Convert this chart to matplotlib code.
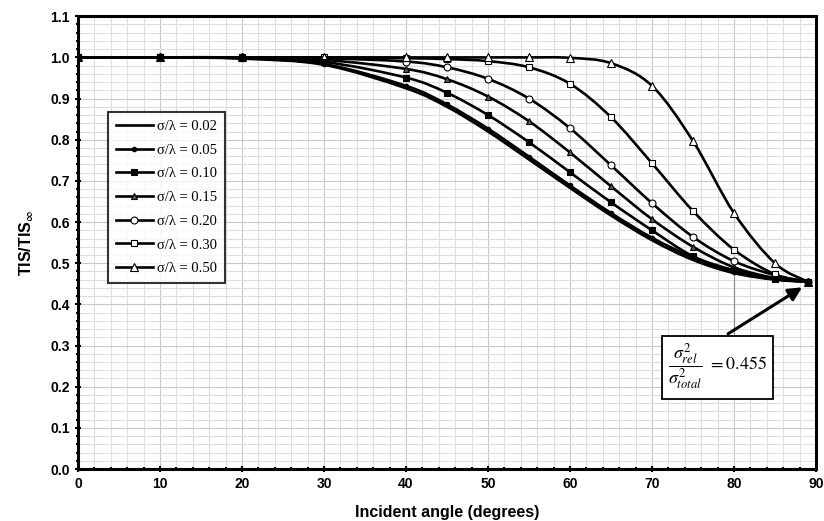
import numpy as np
import matplotlib
matplotlib.use("Agg")
import matplotlib.pyplot as plt
from matplotlib.ticker import MultipleLocator
from matplotlib.path import Path
from matplotlib.patches import PathPatch
from matplotlib.lines import Line2D

plt.rcParams.update({"font.family": "Liberation Sans", "mathtext.fontset": "stix"})

# incident angle (deg) and TIS/TIS_inf per sigma/lambda
angle = [0, 10, 20, 30, 40, 45, 50, 55, 60, 65, 70, 75, 80, 85, 89]
s002 = [1.0, 1.0, 0.997, 0.982, 0.925, 0.880, 0.820, 0.752, 0.683, 0.616, 0.556, 0.508, 0.476, 0.460, 0.455]
s005 = [1.0, 1.0, 0.998, 0.984, 0.931, 0.886, 0.827, 0.759, 0.689, 0.622, 0.562, 0.514, 0.479, 0.461, 0.455]
s010 = [1.0, 1.0, 0.999, 0.989, 0.951, 0.914, 0.860, 0.794, 0.721, 0.648, 0.580, 0.517, 0.483, 0.462, 0.455]
s015 = [1.0, 1.0, 1.0, 0.994, 0.972, 0.947, 0.905, 0.845, 0.769, 0.687, 0.607, 0.540, 0.490, 0.464, 0.455]
s020 = [1.0, 1.0, 1.0, 0.998, 0.990, 0.976, 0.948, 0.900, 0.828, 0.738, 0.646, 0.564, 0.505, 0.471, 0.455]
s030 = [1.0, 1.0, 1.0, 1.0, 0.998, 0.996, 0.991, 0.976, 0.936, 0.855, 0.743, 0.627, 0.533, 0.473, 0.455]
s050 = [1.0, 1.0, 1.0, 1.0, 1.0, 1.0, 1.0, 1.0, 0.999, 0.986, 0.931, 0.797, 0.622, 0.500, 0.455]

labels = ["σ/λ = 0.02", "σ/λ = 0.05", "σ/λ = 0.10", "σ/λ = 0.15",
          "σ/λ = 0.20", "σ/λ = 0.30", "σ/λ = 0.50"]
series = [s002, s005, s010, s015, s020, s030, s050]
styles = [dict(marker=None),
          dict(marker="o", ms=3.2, mfc="black"),
          dict(marker="s", ms=4.2, mfc="black"),
          dict(marker="^", ms=4.8, mfc="#5b4a8a"),
          dict(marker="o", ms=5.0, mfc="white"),
          dict(marker="s", ms=5.0, mfc="white"),
          dict(marker="^", ms=5.6, mfc="white")]
zorders = [3, 4, 9, 5, 6, 7, 8]


def smooth_path(xs, ys):
    # Excel-style smoothed line: cubic Bezier through the points
    p = np.column_stack([xs, ys]).astype(float)
    verts = [p[0]]
    codes = [Path.MOVETO]
    n = len(p)
    for i in range(n - 1):
        p0 = p[i - 1] if i > 0 else p[i]
        p3 = p[i + 2] if i + 2 < n else p[i + 1]
        c1 = p[i] + (p[i + 1] - p0) / 6
        c2 = p[i + 1] - (p3 - p[i]) / 6
        verts += [c1, c2, p[i + 1]]
        codes += [Path.CURVE4] * 3
    return Path(verts, codes)


fig = plt.figure(figsize=(8.24, 5.21), dpi=100)
ax = fig.add_axes([0.0947, 0.0998, 0.8955, 0.869])

handles = []
for y, lab, st, z in zip(series, labels, styles, zorders):
    ax.add_patch(PathPatch(smooth_path(angle, y), fc="none", ec="black", lw=1.9, zorder=z))
    if st["marker"]:
        ax.plot(angle, y, ls="none", color="black", mec="black", mew=0.8, zorder=z + 0.5, **st)
    handles.append(Line2D([], [], color="black", lw=1.9, mec="black", mew=0.8, **st))

ax.set_xlim(0, 90)
ax.set_ylim(0, 1.1)
ax.xaxis.set_major_locator(MultipleLocator(10))
ax.xaxis.set_minor_locator(MultipleLocator(2))
ax.yaxis.set_minor_locator(MultipleLocator(0.02))
ax.set_yticks(np.round(np.arange(0, 1.11, 0.1), 1))
ax.set_yticklabels([f"{v:.1f}" for v in np.arange(0, 1.11, 0.1)])
ax.grid(which="major", color="#c8c8c8", lw=0.8)
ax.grid(which="minor", color="#dedede", lw=0.8)
ax.set_axisbelow(True)
for sp in ax.spines.values():
    sp.set_linewidth(2.2)
ax.tick_params(which="both", direction="inout", width=1.5)
ax.tick_params(which="major", length=5, labelsize=10)
ax.tick_params(which="minor", length=3)
for t in ax.get_xticklabels() + ax.get_yticklabels():
    t.set_fontweight("bold")

ax.set_xlabel("Incident angle (degrees)", fontsize=11.5, fontweight="bold", labelpad=10)
ax.set_ylabel(r"TIS/TIS$_{\mathbf{\infty}}$", fontsize=11.5, fontweight="bold", labelpad=10)

leg = ax.legend(handles, labels, loc="upper left", bbox_to_anchor=(0.031, 0.805), frameon=True,
                fancybox=False, handlelength=2.5, labelspacing=0.72, borderpad=0.55,
                handletextpad=0.3, prop={"family": "Liberation Serif", "size": 10.5})
leg.get_frame().set_edgecolor("black")
leg.get_frame().set_linewidth(1.5)
leg.set_zorder(20)

# annotation box
ax.plot([80, 80], [0.48, 0.323], color="#888888", lw=0.8, zorder=1)
ax.text(78, 0.2475, r"$\dfrac{\sigma^2_{rel}}{\sigma^2_{total}}$ $= 0.455$", fontsize=13,
        ha="center", va="center", zorder=20,
        bbox=dict(boxstyle="square,pad=0.35", fc="white", ec="black", lw=1.3))
ax.annotate("", xy=(88.6, 0.445), xytext=(79, 0.325), zorder=20,
            arrowprops=dict(arrowstyle="-|>,head_length=0.8,head_width=0.4", color="black", lw=2.2))

fig.savefig("out.png", dpi=100)
